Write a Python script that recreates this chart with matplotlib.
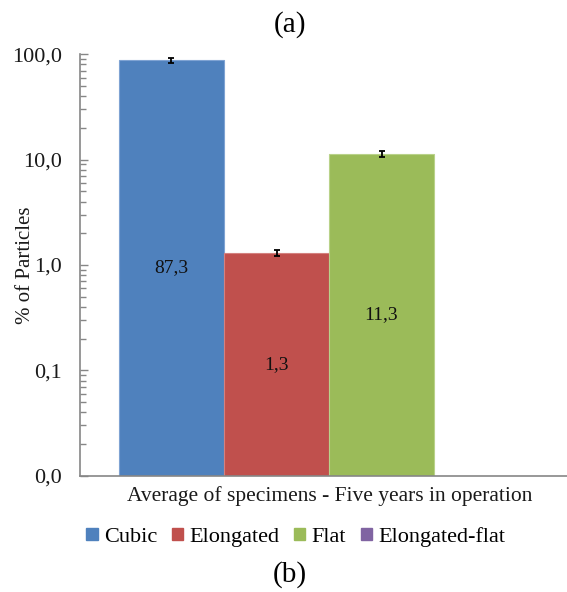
import matplotlib
matplotlib.use("Agg")
import matplotlib.pyplot as plt
from matplotlib.patches import Patch
import numpy as np

categories = ["Cubic", "Elongated", "Flat", "Elongated-flat"]
values = [87.3, 1.3, 11.3, 0.0]
errors = [5.0, 0.09, 0.7, 0.0]
value_labels = ["87,3", "1,3", "11,3", ""]
colors = ["#4F81BD", "#C0504D", "#9BBB59", "#8064A2"]
edge_colors = ["#7FA3D3", "#D4817F", "#B9D28A", "#A08BC0"]
y_ticks = [0.01, 0.1, 1, 10, 100]
y_tick_labels = ["0,0", "0,1", "1,0", "10,0", "100,0"]
group_label = "Average of specimens - Five years in operation"

plt.rcParams["font.family"] = ["Liberation Serif", "DejaVu Serif"]

fig = plt.figure(figsize=(5.67, 5.92), dpi=100)
ax = fig.add_axes([80 / 567, 0.1965, 1 - 80 / 567, 0.9083 - 0.1965])

x = np.arange(len(categories)) - 1.5
ax.set_yscale("log")
for i in range(len(categories)):
    if values[i] <= 0:
        continue
    ax.bar(x[i], values[i], width=1.0, bottom=y_ticks[0], color=colors[i],
           edgecolor=edge_colors[i], linewidth=0.8, zorder=2)
    ax.errorbar(x[i], values[i], yerr=errors[i], fmt="none", ecolor="black",
                elinewidth=1.3, capsize=2.5, capthick=1.3, zorder=3)
    mid = np.sqrt(y_ticks[0] * values[i])
    ax.text(x[i], mid, value_labels[i], ha="center", va="center",
            fontsize=14, color="#111111", zorder=4)

ax.set_ylim(y_ticks[0], y_ticks[-1])
ax.set_xlim(-2 - 39 / 105, 2 + 28 / 105)
ax.set_yticks(y_ticks)
ax.set_yticklabels(y_tick_labels, fontsize=16, color="#1a1a1a")
ax.set_xticks([])

for s in ["top", "right"]:
    ax.spines[s].set_visible(False)
for s in ["left", "bottom"]:
    ax.spines[s].set_color("#868686")
    ax.spines[s].set_linewidth(1.2)

ax.tick_params(axis="y", which="major", direction="in", length=6,
               width=1.0, color="#868686", pad=13)
ax.tick_params(axis="y", which="minor", direction="in", length=4,
               width=1.0, color="#868686")

fig.text(329.5 / 567, 1 - 496 / 592, group_label, ha="center", va="center",
         fontsize=15.5, color="#1a1a1a")
fig.text(26 / 567, 1 - 265 / 592, "% of Particles", rotation=90,
         ha="center", va="center", fontsize=15, color="#1a1a1a")
fig.text(290 / 567, 1 - 25 / 592, "(a)", ha="center", va="center", fontsize=21)
fig.text(290 / 567, 1 - 575 / 592, "(b)", ha="center", va="center", fontsize=21)

handles = [Patch(facecolor=c, edgecolor=c) for c in colors]
fig.legend(handles, categories, loc="center", bbox_to_anchor=(296 / 567, 1 - 537 / 592),
           ncol=4, frameon=False, fontsize=16, handlelength=0.5, handleheight=0.5,
           handletextpad=0.3, columnspacing=0.65, borderpad=0)

fig.savefig("out.png", dpi=100)
